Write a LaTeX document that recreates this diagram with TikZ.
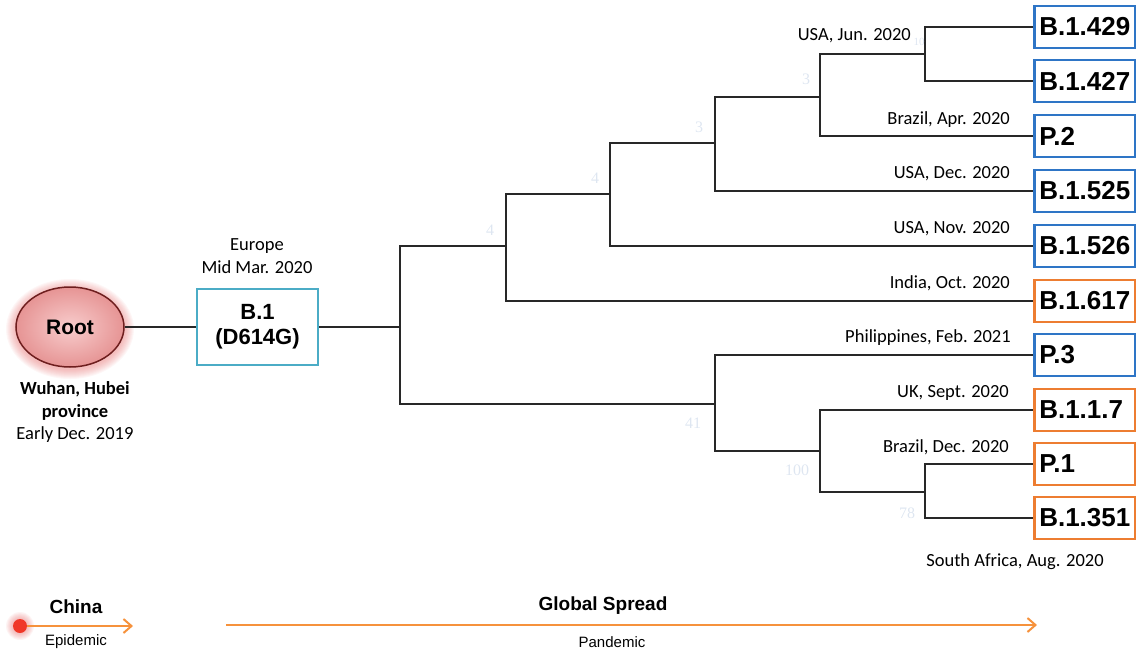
\documentclass[tikz,border=0pt]{standalone}
\usepackage{fontspec}
\setmainfont{Liberation Sans}
\newfontfamily\calfont{Carlito}
\newfontfamily\tmsfont{Liberation Serif}
\usetikzlibrary{arrows.meta,shapes.geometric}

\definecolor{leafblue}{RGB}{46,117,198}
\definecolor{leaforange}{RGB}{237,125,49}
\definecolor{tealbox}{RGB}{75,172,198}
\definecolor{arrorange}{RGB}{246,146,60}
\definecolor{faint}{RGB}{222,230,241}
\definecolor{rootedge}{RGB}{110,30,30}
\definecolor{branch}{RGB}{40,40,40}
\definecolor{rootin}{RGB}{248,205,205}
\definecolor{rootout}{RGB}{230,148,148}
\definecolor{glow}{RGB}{230,110,110}
\definecolor{dotred}{RGB}{240,55,40}

\begin{document}
\begin{tikzpicture}[x=1pt,y=-1pt,
  leaf/.style={draw, line width=2.5pt, anchor=west, minimum height=42pt,
    text width=91pt, inner xsep=5pt, inner ysep=0pt, align=left,
    font=\fontsize{26}{26}\selectfont\bfseries},
  bluel/.style={leaf, draw=leafblue},
  orangel/.style={leaf, draw=leaforange},
  branchline/.style={draw=branch, line width=1.5pt, line join=miter},
  date/.style={font=\calfont\fontsize{18.5}{20}\selectfont, anchor=east, inner sep=0pt},
  captxt/.style={font=\calfont\fontsize{18.5}{22.5}\selectfont, align=center, inner sep=0pt},
  boot/.style={font=\tmsfont\fontsize{16}{16}\selectfont, text=faint, inner sep=0pt},
  timeline/.style={draw=arrorange, line width=2pt, -{Straight Barb[length=8pt,width=14pt,line width=2pt]}},
  sans/.style={font=\fontsize{#1}{#1}\selectfont, inner sep=0pt},
]
\useasboundingbox (0,0) rectangle (1136,654);

% ---- root with glow
\foreach \i in {1,...,10}
  \fill[glow, opacity=0.06] (70,329) ellipse ({54+\i} and {40+\i});
\node[ellipse, draw=rootedge, line width=1.5pt, minimum width=108pt, minimum height=80pt,
  inner color=rootin, outer color=rootout,
  font=\fontsize{21}{21}\selectfont\bfseries] (root) at (70,327) {Root};
\node[captxt] (wuhan) at (75,412) {\bfseries Wuhan, Hubei\\\bfseries province\\Early Dec. 2019};

% ---- B.1
\node[draw=tealbox, line width=2.5pt, minimum width=121pt, minimum height=76pt, align=center,
  font=\fontsize{22}{25}\selectfont\bfseries] (b1) at (257.5,327) {B.1\\(D614G)};
\node[captxt] (europe) at (257,256) {Europe\\Mid Mar. 2020};

% ---- leaves
\node[bluel]   (l429) at (1033,27)  {B.1.429};
\node[bluel]   (l427) at (1033,81)  {B.1.427};
\node[bluel]   (p2)   at (1033,136) {P.2};
\node[bluel]   (l525) at (1033,191) {B.1.525};
\node[bluel]   (l526) at (1033,246) {B.1.526};
\node[orangel] (l617) at (1033,301) {B.1.617};
\node[bluel]   (p3)   at (1033,355) {P.3};
\node[orangel] (l117) at (1033,410) {B.1.1.7};
\node[orangel] (p1)   at (1033,464) {P.1};
\node[orangel] (l351) at (1033,518) {B.1.351};

% ---- internal nodes
\coordinate (A) at (400,327);
\coordinate (B) at (506,246);
\coordinate (C) at (610,194);
\coordinate (D) at (715,143);
\coordinate (E) at (820,97);
\coordinate (F) at (925,54);
\coordinate (G) at (715,404);
\coordinate (H) at (820,451);
\coordinate (I) at (925,492);

% ---- branches
\draw[branchline] (root.east) -- (b1.west);
\draw[branchline] (b1.east) -- (A);
\draw[branchline] (A) |- (B);
\draw[branchline] (A) |- (G);
\draw[branchline] (B) |- (C);
\draw[branchline] (B) |- (l617.west);
\draw[branchline] (C) |- (D);
\draw[branchline] (C) |- (l526.west);
\draw[branchline] (D) |- (E);
\draw[branchline] (D) |- (l525.west);
\draw[branchline] (E) |- (F);
\draw[branchline] (E) |- (p2.west);
\draw[branchline] (F) |- (l429.west);
\draw[branchline] (F) |- (l427.west);
\draw[branchline] (G) |- (p3.west);
\draw[branchline] (G) |- (H);
\draw[branchline] (H) |- (l117.west);
\draw[branchline] (H) |- (I);
\draw[branchline] (I) |- (p1.west);
\draw[branchline] (I) |- (l351.west);

% ---- faint support values
\node[boot, font=\tmsfont\fontsize{11}{11}\selectfont] (s10) at (919,42) {10};
\node[boot] (s3a)  at (806,79)  {3};
\node[boot] (s3b)  at (699,127) {3};
\node[boot] (s4a)  at (595,178) {4};
\node[boot] (s4b)  at (490,230) {4};
\node[boot] (s41)  at (693,423) {41};
\node[boot] (s100) at (797,470) {100};
\node[boot] (s78)  at (907,513) {78};

% ---- dates
\node[date] (d429) at (911,36)  {USA, Jun. 2020};
\node[date] (dp2)  at (1010,120) {Brazil, Apr. 2020};
\node[date] (d525) at (1010,174) {USA, Dec. 2020};
\node[date] (d526) at (1010,229) {USA, Nov. 2020};
\node[date] (d617) at (1010,283) {India, Oct. 2020};
\node[date] (dp3)  at (1011,338) {Philippines, Feb. 2021};
\node[date] (d117) at (1009,393) {UK, Sept. 2020};
\node[date] (dp1)  at (1009,447) {Brazil, Dec. 2020};
\node[captxt]  (d351) at (1015,562) {South Africa, Aug. 2020};

% ---- timeline
\foreach \i in {1,...,7}
  \fill[glow, opacity=0.08] (20,626) circle ({7+\i});
\node[circle, fill=dotred, minimum size=14pt, inner sep=0pt] (dot) at (20,626) {};
\coordinate (chinaend) at (133,626);
\draw[timeline] (dot.east) -- (chinaend);
\node[sans=19] (china) at (76,607) {\bfseries China};
\node[sans=15] (epi) at (76,642) {Epidemic};

\coordinate (gs0) at (226,625);
\coordinate (gs1) at (1037,625);
\draw[timeline] (gs0) -- (gs1);
\node[sans=19] (global) at (603,606) {\bfseries Global Spread};
\node[sans=15] (pand) at (612,642) {Pandemic};
\end{tikzpicture}
\end{document}
